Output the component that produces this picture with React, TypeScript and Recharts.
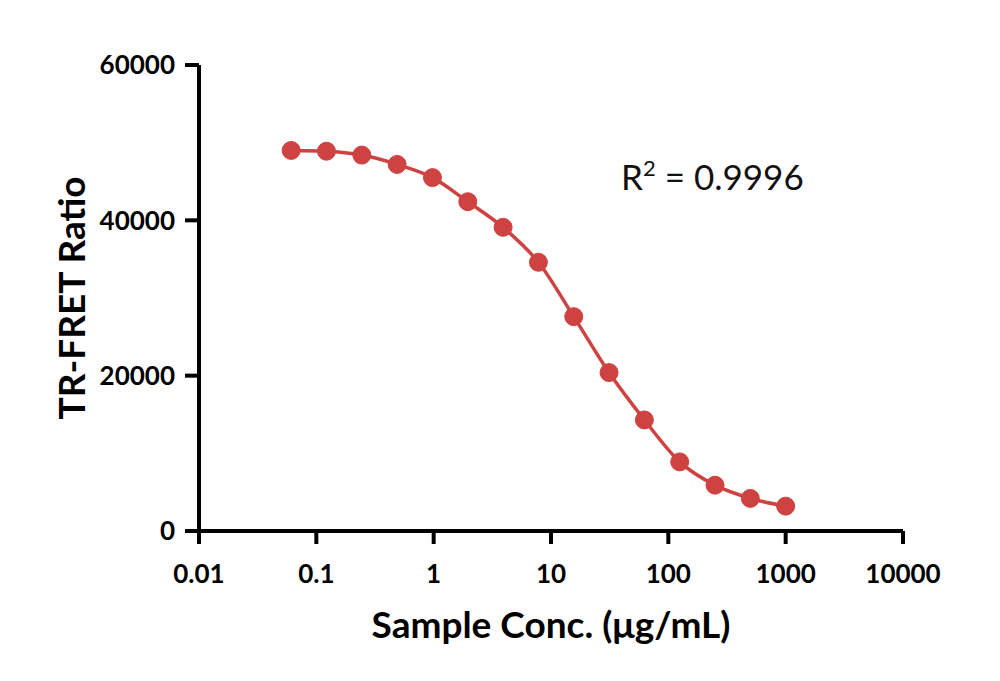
import { CartesianGrid, Customized, Line, LineChart, XAxis, YAxis } from "recharts";

// Sample concentration (µg/mL), two-fold serial dilution from 1000
const concentrations = [
  0.061, 0.122, 0.244, 0.488, 0.977, 1.953, 3.906, 7.813, 15.625, 31.25, 62.5, 125, 250, 500, 1000,
];
// Measured TR-FRET ratio at each concentration
const ratios = [
  49000, 48900, 48400, 47200, 45500, 42400, 39100, 34600, 27600, 20400, 14300, 8900, 5900, 4200, 3200,
];
const xTicks = [0.01, 0.1, 1, 10, 100, 1000, 10000];
const yTicks = [0, 20000, 40000, 60000];
const rSquared = "0.9996";

const data = concentrations.map((x, i) => ({ x, y: ratios[i] }));

const RED = "#cf4242";
const FONT = "Lato, 'Open Sans', sans-serif";

function RSquaredLabel() {
  return (
    <text x={621} y={190} fontFamily={FONT} fontSize={35} fill="#111">
      R
      <tspan dy={-14} fontSize={22}>
        2
      </tspan>
      <tspan dy={14}> = {rSquared}</tspan>
    </text>
  );
}

export default function App() {
  return (
    <div style={{ position: "absolute", left: 0, top: 0, width: 1000, height: 681, background: "#fff" }}>
      <LineChart
        width={1000}
        height={681}
        data={data}
        margin={{ top: 65, right: 97, bottom: 30, left: 99 }}
      >
        <CartesianGrid stroke="none" />
        <XAxis
          dataKey="x"
          type="number"
          scale="log"
          domain={[0.01, 10000]}
          ticks={xTicks}
          allowDataOverflow
          height={120}
          tickFormatter={(v: number) => String(v)}
          stroke="#000"
          strokeWidth={4}
          tickSize={13}
          tickMargin={21}
          tick={{ fill: "#000", fontSize: 26, fontWeight: 700, fontFamily: FONT }}
          label={{
            value: "Sample Conc. (μg/mL)",
            position: "insideBottom",
            offset: 13,
            fill: "#000",
            fontSize: 37,
            fontWeight: 700,
            fontFamily: FONT,
          }}
        />
        <YAxis
          type="number"
          domain={[0, 60000]}
          ticks={yTicks}
          width={100}
          stroke="#000"
          strokeWidth={4}
          tickSize={14}
          tickMargin={10}
          tick={{ fill: "#000", fontSize: 26, fontWeight: 700, fontFamily: FONT }}
          label={{
            value: "TR-FRET Ratio",
            angle: -90,
            position: "insideLeft",
            offset: -27,
            style: { textAnchor: "middle" },
            fill: "#000",
            fontSize: 37,
            fontWeight: 700,
            fontFamily: FONT,
          }}
        />
        <Line
          dataKey="y"
          type="monotone"
          stroke={RED}
          strokeWidth={3.5}
          dot={{ r: 9, fill: RED, stroke: RED, strokeWidth: 1 }}
          isAnimationActive={false}
        />
        <Customized component={RSquaredLabel} />
      </LineChart>
    </div>
  );
}
